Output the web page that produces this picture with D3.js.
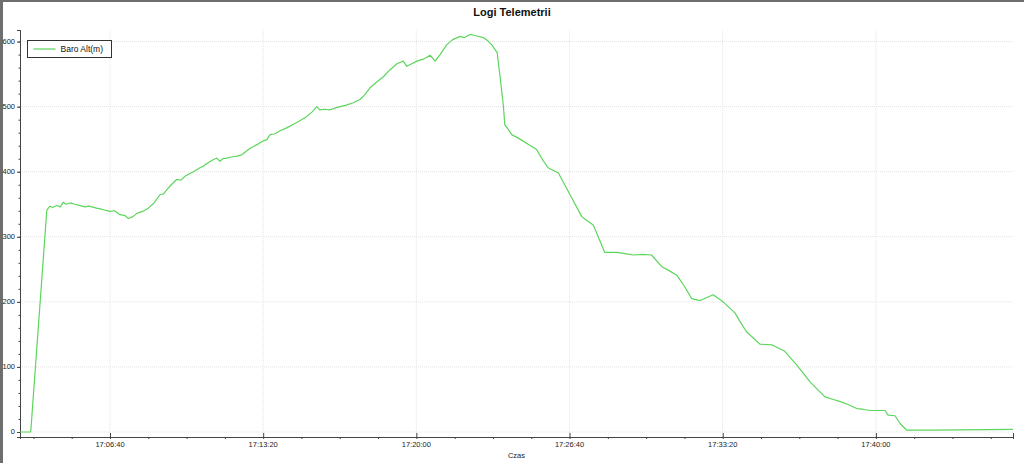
<!DOCTYPE html>
<html>
<head>
<meta charset="utf-8">
<script src="https://cdn.jsdelivr.net/npm/d3@7"></script>
<style>
  body { margin: 0; background: #fff; }
  svg { display: block; font-family: "Liberation Sans", Arial, sans-serif; }
</style>
</head>
<body>
<div id="chart"></div>
<script>
// telemetry readings (small wiggles included)
let times = ["17:02:45","17:03:13","17:03:55","17:04:03","17:04:10","17:04:21","17:04:30","17:04:38",
  "17:04:45","17:04:56","17:05:08","17:05:22","17:05:35","17:05:45","17:06:05","17:06:20","17:06:40",
  "17:06:52","17:07:06","17:07:18","17:07:28","17:07:40","17:07:50","17:08:05","17:08:20","17:08:35",
  "17:08:51","17:09:00","17:09:08","17:09:20","17:09:34","17:09:45","17:09:56","17:10:05","17:10:18",
  "17:10:35","17:10:45","17:10:57","17:11:08","17:11:19","17:11:27","17:11:35","17:11:45","17:12:00",
  "17:12:12","17:12:24","17:12:35","17:12:46","17:13:05","17:13:18","17:13:29","17:13:38","17:13:50",
  "17:14:04","17:14:20","17:14:39","17:14:55","17:15:14","17:15:28","17:15:40","17:15:48","17:16:00",
  "17:16:14","17:16:28","17:16:41","17:16:55","17:17:15","17:17:33","17:17:45","17:17:59","17:18:15",
  "17:18:34","17:18:50","17:19:09","17:19:26","17:19:35","17:19:48","17:20:01","17:20:18","17:20:36",
  "17:20:49","17:21:02","17:21:19","17:21:35","17:21:54","17:22:05","17:22:20","17:22:35","17:22:55",
  "17:23:05","17:23:17","17:23:31","17:23:38","17:23:47","17:23:51","17:24:00","17:24:09","17:24:25",
  "17:24:39","17:24:55","17:25:14","17:25:30","17:25:44","17:26:11","17:26:41","17:27:12","17:27:25",
  "17:27:42","17:28:12","17:28:43","17:29:05","17:29:26","17:29:50","17:30:14","17:30:41","17:31:00",
  "17:31:20","17:31:40","17:31:59","17:32:21","17:32:55","17:33:21","17:33:52","17:34:05","17:34:22",
  "17:34:57","17:35:28","17:36:02","17:36:33","17:37:08","17:37:47","17:38:09","17:38:25","17:38:44",
  "17:39:10","17:39:25","17:39:44","17:40:24","17:40:32","17:40:50","17:41:03","17:41:20","17:42:29",
  "17:45:58"];
let baroAlt = [0,0,341,347,345,348,346,353,
  350,352,350,348,346,347,344,342,339,
  340,334,333,328,331,336,339,344,352,
  365,366,372,380,388,387,393,396,400,
  406,409,414,418,421,416,420,421,423,
  424,426,431,436,442,447,449,457,458,
  463,467,473,478,485,492,500,495,496,
  495,498,500,502,506,511,518,529,537,
  546,556,566,570,562,566,570,573,579,
  570,580,595,603,608,606,611,609,606,
  602,595,583,549,503,472,465,457,452,
  447,441,434,418,406,398,365,331,325,
  318,276,276,274,272,273,272,254,248,
  241,224,205,202,211,200,183,170,154,
  135,134,124,103,77,54,50,47,43,
  36,35,33,33,26,25,13,3,3,
  4];

let yTicks = [0, 100, 200, 300, 400, 500, 600];
let seriesName = "Baro Alt(m)";
let chartTitle = "Logi Telemetrii";
let xTitle = "Czas";

let W = 1024, H = 463;
let margin = {top: 30, right: 11, bottom: 26, left: 20};
let lineColor = "#5cd65c";

let parse = d3.timeParse("%H:%M:%S");
let data = times.map((t, i) => ({t: parse(t), v: baroAlt[i]}));

let svg = d3.select("#chart").append("svg")
  .attr("width", W)
  .attr("height", H);

// window frame edges
svg.append("rect").attr("x", 0).attr("y", 0).attr("width", W).attr("height", 2).attr("fill", "#6e6e6e");
svg.append("rect").attr("x", 0).attr("y", 0).attr("width", 3).attr("height", H).attr("fill", "#6e6e6e");

let x = d3.scaleTime()
  .domain(d3.extent(data, d => d.t))
  .range([margin.left, W - margin.right]);

let y = d3.scaleLinear()
  .domain([-7.7, 617.8])
  .range([H - margin.bottom, margin.top]);

// tick positions: majors every 400 s, minors every 100 s
let base = parse("17:00:00");
let [t0, t1] = x.domain();
let secs = d3.range(Math.ceil((t0 - base) / 100000) * 100, (t1 - base) / 1000, 100);
let xMinor = secs.map(s => new Date(+base + s * 1000));
let xMajor = xMinor.filter((d, i) => ((d - base) / 1000) % 400 === 0);
let yMinor = d3.range(0, 601, 20);

// grid
let grid = svg.append("g");
grid.selectAll(".gx").data(xMajor).enter().append("line")
  .attr("x1", d => x(d)).attr("x2", d => x(d))
  .attr("y1", margin.top).attr("y2", H - margin.bottom)
  .attr("stroke", "#e4e4e4").attr("stroke-dasharray", "1,1");
grid.selectAll(".gy").data(yTicks).enter().append("line")
  .attr("x1", margin.left).attr("x2", W - margin.right)
  .attr("y1", d => y(d)).attr("y2", d => y(d))
  .attr("stroke", "#e4e4e4").attr("stroke-dasharray", "1,1");

// x axis
let xAxis = svg.append("g")
  .attr("transform", `translate(0,${H - margin.bottom})`)
  .call(d3.axisBottom(x).tickValues(xMinor).tickSize(2).tickFormat(""));
xAxis.append("g")
  .call(d3.axisTop(x).tickValues(xMajor).tickSize(4).tickFormat(""));
xAxis.selectAll("path, line").attr("stroke", "#444");

svg.append("g").selectAll("text").data(xMajor).enter().append("text")
  .attr("x", d => x(d))
  .attr("y", H - margin.bottom + 10)
  .attr("text-anchor", "middle")
  .attr("font-size", 7.5)
  .attr("fill", "#222")
  .text(d3.timeFormat("%H:%M:%S"));

// y axis
let yAxis = svg.append("g")
  .attr("transform", `translate(${margin.left},0)`)
  .call(d3.axisLeft(y).tickValues(yMinor).tickSize(1.5).tickFormat(""));
yAxis.append("g")
  .call(d3.axisLeft(y).tickValues(yTicks).tickSize(3).tickFormat(""));
yAxis.selectAll("path, line").attr("stroke", "#444");

svg.append("g").selectAll("text").data(yTicks).enter().append("text")
  .attr("x", 15)
  .attr("y", d => y(d) + 2.5)
  .attr("text-anchor", "end")
  .attr("font-size", 7.5)
  .attr("fill", "#222")
  .text(d => d);

// series
svg.append("path")
  .datum(data)
  .attr("fill", "none")
  .attr("stroke", lineColor)
  .attr("stroke-width", 1.2)
  .attr("stroke-linejoin", "round")
  .attr("d", d3.line().x(d => x(d.t)).y(d => y(d.v)));

// titles
svg.append("text")
  .attr("x", W / 2).attr("y", 16)
  .attr("text-anchor", "middle")
  .attr("font-size", 11).attr("font-weight", "bold")
  .attr("fill", "#111")
  .text(chartTitle);

svg.append("text")
  .attr("x", (margin.left + W - margin.right) / 2).attr("y", 458)
  .attr("text-anchor", "middle")
  .attr("font-size", 7.5)
  .attr("fill", "#222")
  .text(xTitle);

// legend
let legend = svg.append("g").attr("transform", "translate(27.5,40.5)");
legend.append("rect")
  .attr("width", 84).attr("height", 17)
  .attr("fill", "#fff").attr("stroke", "#333");
legend.append("line")
  .attr("x1", 6).attr("x2", 28).attr("y1", 8.5).attr("y2", 8.5)
  .attr("stroke", lineColor).attr("stroke-width", 1.2);
legend.append("text")
  .attr("x", 33).attr("y", 11.5)
  .attr("font-size", 8.5).attr("fill", "#111")
  .text(seriesName);
</script>
</body>
</html>
